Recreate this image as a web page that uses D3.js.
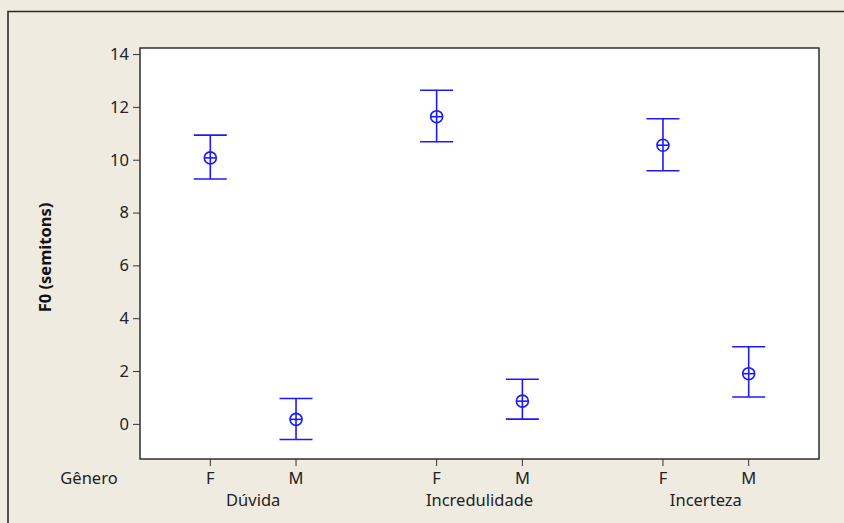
<!DOCTYPE html>
<html>
<head>
<meta charset="utf-8">
<script src="https://cdn.jsdelivr.net/npm/d3@7"></script>
<style>
  html, body { margin: 0; padding: 0; background: #efebe1; }
  svg { display: block; }
  .tick text { font-family: "Noto Sans", sans-serif; }
</style>
</head>
<body>
<svg id="chart" width="844" height="523"></svg>
<script>
// Interval plot of F0 (semitons) by emotion and gender: mean with interval bars
const groups = ["Dúvida", "Incredulidade", "Incerteza"];
const genders = ["F", "M"];
const means = [10.07, 0.17, 11.63, 0.86, 10.55, 1.90];
const upper = [10.93, 0.96, 12.63, 1.69, 11.55, 2.92];
const lower = [9.27, -0.59, 10.68, 0.18, 9.58, 1.02];
const yTicks = [0, 2, 4, 6, 8, 10, 12, 14];

const rows = [];
groups.forEach((g, gi) => genders.forEach((s, si) => {
  const i = gi * genders.length + si;
  rows.push({ group: g, gender: s, mean: means[i], hi: upper[i], lo: lower[i] });
}));

const W = 844, H = 523;
const plot = { left: 140, top: 48, right: 819, bottom: 459 };
const FONT = "Noto Sans, sans-serif";
const FS = 16.5;
const svg = d3.select("#chart");

// outer panel: beige with frame on the top and left sides
svg.append("rect").attr("x", 0).attr("y", 0).attr("width", W).attr("height", H).attr("fill", "#efebe1");
svg.append("path")
  .attr("d", `M8,${H} L8,11.5 L${W},11.5`)
  .attr("fill", "none").attr("stroke", "#2a2a2a").attr("stroke-width", 1.6);

const xGroup = d3.scaleBand().domain(groups).range([plot.left, plot.right]).padding(0);
const xGender = d3.scalePoint().domain(genders).range([0, xGroup.bandwidth()]).padding(0.82);
const y = d3.scaleLinear().domain([-1.33, 14.23]).range([plot.bottom, plot.top]);

const xPos = d => xGroup(d.group) + xGender(d.gender);

// plot area
svg.append("rect")
  .attr("x", plot.left).attr("y", plot.top)
  .attr("width", plot.right - plot.left).attr("height", plot.bottom - plot.top)
  .attr("fill", "#ffffff").attr("stroke", "#222").attr("stroke-width", 1.4);

// y axis
const yAxis = svg.append("g")
  .attr("transform", `translate(${plot.left},0)`)
  .call(d3.axisLeft(y).tickValues(yTicks).tickSize(7).tickPadding(4).tickFormat(d3.format("d")));
yAxis.select(".domain").remove();
yAxis.selectAll(".tick line").attr("stroke", "#333");
yAxis.selectAll(".tick text").attr("font-size", FS).attr("fill", "#222");

// x axis: gender ticks
const xAxisG = svg.append("g");
xAxisG.selectAll("line.xt").data(rows).join("line")
  .attr("class", "xt")
  .attr("x1", xPos).attr("x2", xPos)
  .attr("y1", plot.bottom).attr("y2", plot.bottom + 7)
  .attr("stroke", "#333");
xAxisG.selectAll("text.xg").data(rows).join("text")
  .attr("class", "xg")
  .attr("x", xPos).attr("y", plot.bottom + 25)
  .attr("text-anchor", "middle")
  .attr("font-family", FONT).attr("font-size", FS).attr("fill", "#222")
  .text(d => d.gender);
xAxisG.selectAll("text.xe").data(groups).join("text")
  .attr("class", "xe")
  .attr("x", g => xGroup(g) + xGroup.bandwidth() / 2).attr("y", plot.bottom + 47)
  .attr("text-anchor", "middle")
  .attr("font-family", FONT).attr("font-size", FS).attr("fill", "#222")
  .text(g => g);
svg.append("text")
  .attr("x", 89).attr("y", plot.bottom + 25)
  .attr("text-anchor", "middle")
  .attr("font-family", FONT).attr("font-size", FS).attr("fill", "#222")
  .text("Gênero");

// y axis title
svg.append("text")
  .attr("transform", `translate(51,${(plot.top + plot.bottom) / 2 + 4}) rotate(-90)`)
  .attr("text-anchor", "middle")
  .attr("font-family", FONT).attr("font-size", FS).attr("font-weight", "bold").attr("fill", "#111")
  .text("F0 (semitons)");

// interval bars
const blue = "#1a1aff";
const cap = 16.5, r = 6;
const marks = svg.append("g").attr("stroke", blue).attr("stroke-width", 1.6).attr("fill", "none");
const iv = marks.selectAll("g.iv").data(rows).join("g").attr("class", "iv");
iv.append("line").attr("x1", xPos).attr("x2", xPos).attr("y1", d => y(d.hi)).attr("y2", d => y(d.lo));
iv.append("line").attr("x1", d => xPos(d) - cap).attr("x2", d => xPos(d) + cap).attr("y1", d => y(d.hi)).attr("y2", d => y(d.hi));
iv.append("line").attr("x1", d => xPos(d) - cap).attr("x2", d => xPos(d) + cap).attr("y1", d => y(d.lo)).attr("y2", d => y(d.lo));
iv.append("circle").attr("cx", xPos).attr("cy", d => y(d.mean)).attr("r", r);
iv.append("line").attr("x1", d => xPos(d) - r).attr("x2", d => xPos(d) + r).attr("y1", d => y(d.mean)).attr("y2", d => y(d.mean));
</script>
</body>
</html>
